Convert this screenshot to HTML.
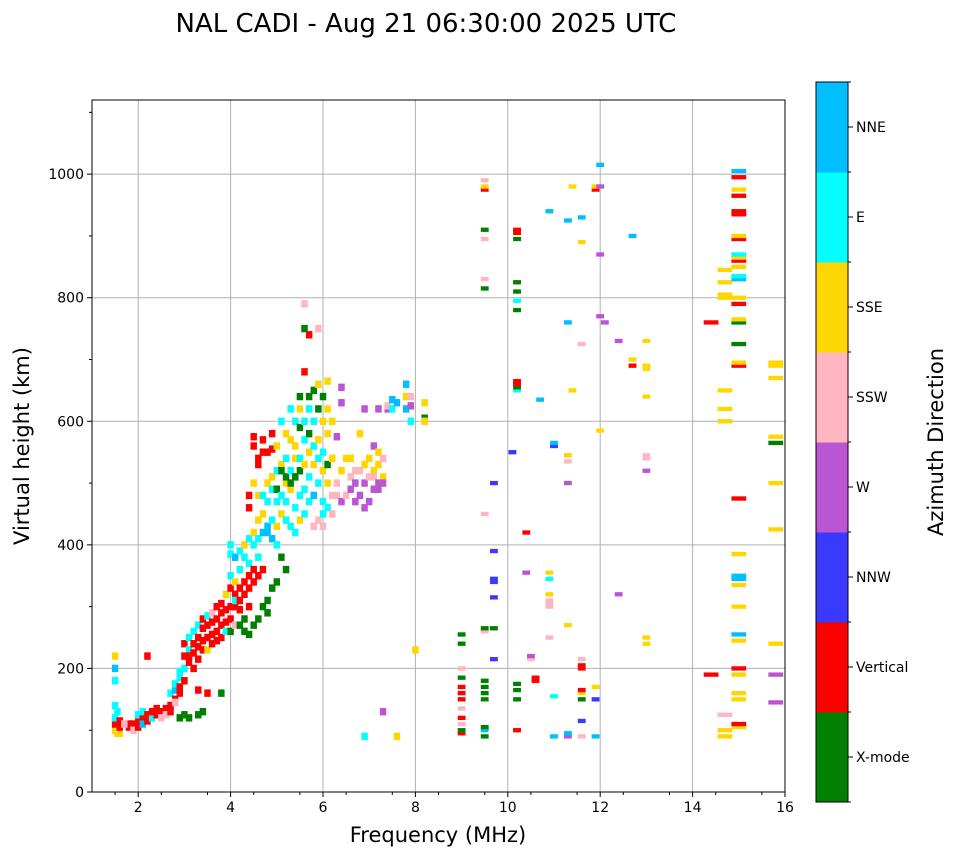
<!DOCTYPE html>
<html><head><meta charset="utf-8">
<style>
body{margin:0;background:#fff;font-family:"DejaVu Sans","Liberation Sans",sans-serif;}
svg text{font-family:"DejaVu Sans","Liberation Sans",sans-serif;}
</style></head>
<body>
<svg id="chart" width="958" height="857" xmlns="http://www.w3.org/2000/svg">
<text x="426" y="32" font-size="26" text-anchor="middle">NAL CADI - Aug 21 06:30:00 2025 UTC</text>
<g id="grid"></g>
<g id="cells"></g>
<rect x="92" y="100" width="693" height="692" fill="none" stroke="#000" stroke-width="1"/>
<g id="axes"></g>
<text x="438" y="842" font-size="21" text-anchor="middle">Frequency (MHz)</text>
<text transform="translate(29,446) rotate(-90)" font-size="21" text-anchor="middle">Virtual height (km)</text>
<g id="cbar"></g>
<text transform="translate(943,442) rotate(-90)" font-size="21" text-anchor="middle">Azimuth Direction</text>
</svg>
<script>
const xTicks=[2,4,6,8,10,12,14,16];
const yTicks=[0,200,400,600,800,1000];
const dirLabels=["X-mode","Vertical","NNW","W","SSW","SSE","E","NNE"];
const dirColors=["#008000","#ff0000","#3a3aff","#ba55d3","#ffb6c1","#ffd700","#00ffff","#00bfff"];
// [frequency MHz, height km, direction index]
const cells=[
[1.5,100,5],[1.5,110,1],[1.5,120,6],[1.5,140,6],[1.5,180,6],[1.5,200,7],[1.5,220,5],[1.55,95,5],[1.55,130,6],
[1.6,95,5],[1.6,105,1],[1.6,115,1],[1.8,105,1],[1.8,110,1],[1.9,110,1],[1.9,100,4],[1.7,110,4],
[2.0,115,1],[2.0,105,1],[2.0,125,6],[2.1,120,1],[2.1,110,7],[2.1,130,6],[2.2,115,1],[2.2,125,1],[2.2,220,1],
[2.3,120,6],[2.3,130,1],[2.4,125,1],[2.4,135,1],[2.5,130,1],[2.5,120,4],[2.6,135,1],[2.6,125,4],
[2.7,140,1],[2.7,130,1],[2.7,160,6],[2.8,150,1],[2.8,165,7],[2.8,175,6],[2.8,145,4],
[2.9,160,1],[2.9,170,1],[2.9,185,6],[2.9,195,6],[2.9,120,0],[3.0,180,1],[3.0,200,6],[3.0,220,1],[3.0,240,1],[3.0,125,0],
[3.1,210,1],[3.1,230,6],[3.1,250,6],[3.1,220,1],[3.1,120,0],[3.2,225,1],[3.2,240,1],[3.2,260,6],[3.2,200,1],
[3.3,235,1],[3.3,250,1],[3.3,270,6],[3.3,215,1],[3.3,125,0],[3.3,165,1],[3.4,245,1],[3.4,265,1],[3.4,280,1],[3.4,230,1],[3.4,130,0],
[3.5,250,1],[3.5,270,1],[3.5,285,6],[3.5,230,5],[3.5,160,1],[3.6,255,1],[3.6,275,1],[3.6,290,4],[3.6,240,1],
[3.7,260,1],[3.7,280,1],[3.7,300,1],[3.7,245,1],[3.8,270,1],[3.8,290,1],[3.8,305,1],[3.8,250,1],[3.8,160,0],
[3.9,275,1],[3.9,295,1],[3.9,320,5],[3.9,260,6],[4.0,280,1],[4.0,300,1],[4.0,330,1],[4.0,350,6],[4.0,385,6],[4.0,400,6],[4.0,260,0],
[4.1,300,1],[4.1,320,1],[4.1,310,6],[4.1,340,5],[4.1,380,7],[4.1,270,4],[4.2,310,1],[4.2,330,1],[4.2,295,1],[4.2,360,6],[4.2,390,6],[4.2,270,0],
[4.3,320,1],[4.3,340,1],[4.3,380,6],[4.3,400,5],[4.3,260,0],[4.3,280,0],[4.4,330,1],[4.4,350,1],[4.4,300,1],[4.4,370,6],[4.4,410,6],[4.4,255,0],[4.4,480,1],[4.4,460,1],
[4.5,340,1],[4.5,360,1],[4.5,400,6],[4.5,420,5],[4.5,270,0],[4.5,500,5],[4.5,560,1],[4.5,575,1],
[4.6,350,1],[4.6,380,6],[4.6,410,6],[4.6,440,5],[4.6,280,0],[4.6,480,5],[4.6,540,1],[4.6,530,1],
[4.7,360,1],[4.7,300,0],[4.7,420,7],[4.7,450,5],[4.7,480,6],[4.7,550,1],[4.7,570,1],
[4.8,420,7],[4.8,430,7],[4.8,470,6],[4.8,500,5],[4.8,310,0],[4.8,550,1],[4.8,290,0],
[4.9,410,7],[4.9,440,6],[4.9,490,6],[4.9,510,5],[4.9,330,0],[4.9,555,1],[4.9,580,1],
[5.0,400,6],[5.0,430,5],[5.0,470,6],[5.0,520,6],[5.0,340,0],[5.0,490,0],[5.0,560,5],
[5.1,380,0],[5.1,450,5],[5.1,480,6],[5.1,530,5],[5.1,600,6],[5.1,520,0],
[5.2,360,0],[5.2,440,6],[5.2,470,6],[5.2,500,5],[5.2,540,6],[5.2,580,5],[5.2,510,0],
[5.3,430,6],[5.3,490,5],[5.3,520,6],[5.3,570,5],[5.3,620,6],[5.3,500,0],
[5.4,420,6],[5.4,460,6],[5.4,510,6],[5.4,540,5],[5.4,600,6],[5.4,560,5],[5.4,510,0],
[5.5,440,5],[5.5,480,6],[5.5,520,0],[5.5,540,6],[5.5,590,0],[5.5,620,5],[5.5,640,0],
[5.6,450,6],[5.6,490,6],[5.6,530,5],[5.6,570,6],[5.6,600,6],[5.6,680,1],[5.6,750,0],[5.6,790,4],
[5.7,470,6],[5.7,510,6],[5.7,550,5],[5.7,580,0],[5.7,620,6],[5.7,640,0],[5.7,740,1],
[5.8,480,7],[5.8,530,5],[5.8,560,6],[5.8,600,6],[5.8,650,0],[5.8,430,4],
[5.9,500,6],[5.9,540,6],[5.9,570,5],[5.9,620,0],[5.9,660,5],[5.9,440,4],[5.9,750,4],
[6.0,450,6],[6.0,520,5],[6.0,550,6],[6.0,600,5],[6.0,640,0],[6.0,430,4],[6.0,470,6],
[6.1,460,6],[6.1,500,5],[6.1,530,0],[6.1,580,5],[6.1,620,5],[6.1,665,5],
[6.2,450,4],[6.2,480,4],[6.2,540,5],[6.2,600,5],[6.3,480,4],[6.3,500,4],[6.3,575,3],
[6.4,470,3],[6.4,520,5],[6.4,630,3],[6.4,655,3],[6.5,480,4],[6.5,540,5],
[6.6,490,3],[6.6,510,4],[6.6,540,5],[6.7,500,3],[6.7,520,4],[6.7,470,3],
[6.8,480,3],[6.8,520,4],[6.8,580,5],[6.9,460,3],[6.9,500,3],[6.9,530,5],[6.9,620,3],[6.9,90,6],
[7.0,470,3],[7.0,510,4],[7.0,540,5],[7.1,490,3],[7.1,520,5],[7.1,560,3],[7.1,510,4],
[7.2,500,3],[7.2,530,5],[7.2,550,5],[7.2,490,3],[7.2,620,3],[7.3,510,5],[7.3,540,4],[7.3,500,3],[7.3,130,3],
[7.4,620,3],[7.4,625,4],[7.5,635,7],[7.5,620,6],[7.6,90,5],[7.6,630,7],
[7.8,620,7],[7.8,640,5],[7.8,660,7],[7.9,600,6],[7.9,625,3],[7.9,640,4],[8.0,230,5],[8.2,605,0],[8.2,600,5],[8.2,630,5],
[9.0,95,1],[9.0,100,0],[9.0,110,4],[9.0,120,1],[9.0,135,4],[9.0,150,1],[9.0,160,1],[9.0,170,1],[9.0,185,0],[9.0,200,4],[9.0,240,0],[9.0,255,0],
[9.5,90,0],[9.5,100,7],[9.5,105,0],[9.5,150,0],[9.5,160,0],[9.5,170,0],[9.5,180,0],[9.5,260,4],[9.5,265,0],[9.5,450,4],[9.5,815,0],[9.5,830,4],[9.5,895,4],[9.5,910,0],[9.5,975,1],[9.5,980,5],[9.5,990,4],
[9.7,215,2],[9.7,265,0],[9.7,315,2],[9.7,340,2],[9.7,345,2],[9.7,390,2],[9.7,500,2],
[10.2,100,1],[10.2,150,0],[10.2,165,0],[10.2,175,0],[10.2,650,6],[10.2,655,0],[10.2,660,1],[10.2,665,1],[10.2,780,0],[10.2,795,6],[10.2,810,0],[10.2,825,0],[10.2,895,0],[10.2,905,1],[10.2,910,1],
[10.4,420,1],[10.1,550,2],[10.5,215,4],[10.5,220,3],[10.6,180,1],[10.6,185,1],[10.4,355,3],[10.7,635,7],
[10.9,250,4],[10.9,300,4],[10.9,305,4],[10.9,310,4],[10.9,320,5],[10.9,345,6],[10.9,355,5],[10.9,940,7],
[11.0,90,7],[11.0,155,6],[11.0,560,2],[11.0,565,7],
[11.3,90,3],[11.3,95,7],[11.3,270,5],[11.3,500,3],[11.3,535,4],[11.3,545,5],[11.3,760,7],[11.3,925,7],[11.4,650,5],[11.4,980,5],
[11.6,90,4],[11.6,115,2],[11.6,150,0],[11.6,160,5],[11.6,165,1],[11.6,200,1],[11.6,205,1],[11.6,215,4],[11.6,725,4],[11.6,890,5],[11.6,930,7],
[11.9,90,7],[11.9,150,2],[11.9,170,5],[11.9,975,1],[11.9,980,5],[12.0,585,5],[12.0,770,3],[12.0,870,3],[12.0,1015,7],[12.0,980,3],[12.1,760,3],
[12.4,320,3],[12.4,730,3],[12.7,690,1],[12.7,700,5],[12.7,900,7],
[13.0,240,5],[13.0,250,5],[13.0,520,3],[13.0,540,4],[13.0,545,4],[13.0,640,5],[13.0,685,5],[13.0,690,5],[13.0,730,5],
[14.4,190,1],[14.4,760,1],[14.7,90,5],[14.7,100,5],[14.7,125,4],[14.7,600,5],[14.7,620,5],[14.7,650,5],[14.7,800,5],[14.7,805,5],[14.7,825,5],[14.7,845,5],
[15.0,105,5],[15.0,110,1],[15.0,150,5],[15.0,160,5],[15.0,190,5],[15.0,200,1],[15.0,245,5],[15.0,255,7],[15.0,300,5],[15.0,335,5],[15.0,345,7],[15.0,350,7],[15.0,385,5],[15.0,475,1],
[15.0,690,1],[15.0,695,5],[15.0,725,0],[15.0,760,0],[15.0,765,5],[15.0,790,1],[15.0,800,5],[15.0,830,7],[15.0,835,6],[15.0,850,5],[15.0,860,1],[15.0,865,5],[15.0,870,6],[15.0,895,1],[15.0,900,5],[15.0,935,1],[15.0,940,1],[15.0,965,1],[15.0,975,5],[15.0,995,1],[15.0,1005,7],
[15.8,145,3],[15.8,190,3],[15.8,240,5],[15.8,425,5],[15.8,500,5],[15.8,565,0],[15.8,575,5],[15.8,670,5],[15.8,690,5],[15.8,695,5]
];
const X0=92,X1=785,Y0=792,Y1=100,FMIN=1,FMAX=16,HMIN=0,HMAX=1120;
function xs(f){return X0+(f-FMIN)/(FMAX-FMIN)*(X1-X0);}
function ys(h){return Y0-(h-HMIN)/(HMAX-HMIN)*(Y0-Y1);}
const NS="http://www.w3.org/2000/svg";
function mk(tag,attrs,parent){const e=document.createElementNS(NS,tag);for(const k in attrs)e.setAttribute(k,attrs[k]);parent.appendChild(e);return e;}
const grid=document.getElementById('grid'),axes=document.getElementById('axes'),cg=document.getElementById('cells'),cb=document.getElementById('cbar');
xTicks.forEach(t=>{
  const l=mk('line',{x1:xs(t),x2:xs(t),y1:Y1,y2:Y0,stroke:'#b0b0b0','stroke-width':1},grid);
  
  
  const tk=mk('line',{x1:xs(t),x2:xs(t),y1:Y0,y2:Y0+5,stroke:'#000'},axes);
  
  
  const tx=mk('text',{x:xs(t),y:Y0+20,'font-size':14,'text-anchor':'middle'},axes);
  tx.textContent=t;
  
  
});
for(let f=1.5;f<16;f+=1){
  const m=mk('line',{x1:xs(f),x2:xs(f),y1:Y0,y2:Y0+3,stroke:'#000'},axes);
  
  
}
yTicks.forEach(t=>{
  if(t>0){const l=mk('line',{x1:X0,x2:X1,y1:ys(t),y2:ys(t),stroke:'#b0b0b0','stroke-width':1},grid);
  
  }
  const tk=mk('line',{x1:X0-5,x2:X0,y1:ys(t),y2:ys(t),stroke:'#000'},axes);
  
  
  const tx=mk('text',{x:X0-8,y:ys(t)+5,'font-size':14,'text-anchor':'end'},axes);
  tx.textContent=t;
  
  
});
for(let h=100;h<1120;h+=200){
  const m=mk('line',{x1:X0-3,x2:X0,y1:ys(h),y2:ys(h),stroke:'#000'},axes);
  
  
}
cells.forEach(c=>{
  const f=c[0],h=c[1];
  const w=f<8.5?0.14:(f<14?0.17:0.32);
  const hh=f<8.5?6:3.5;
  const r=mk('rect',{x:xs(f-w/2),y:ys(h+hh),width:xs(f+w/2)-xs(f-w/2),height:ys(h-hh)-ys(h+hh),fill:dirColors[c[2]]},cg);
  
  
});
const CBX=816,CBW=32,CBT=82,CBB=802,bh=(CBB-CBT)/dirLabels.length;
dirLabels.forEach((lab,i)=>{
  const y=CBB-(i+1)*bh;
  const r=mk('rect',{x:CBX,y:y,width:CBW,height:bh+0.5,fill:dirColors[i]},cb);
  
  
  const t=mk('line',{x1:CBX+CBW,x2:CBX+CBW+5,y1:y+bh/2,y2:y+bh/2,stroke:'#000'},cb);
  
  
  const tx=mk('text',{x:CBX+CBW+8,y:y+bh/2+5,'font-size':14},cb);
  tx.textContent=lab;
  
  
});
for(let i=0;i<=dirLabels.length;i++){
  const t=mk('line',{x1:CBX+CBW,x2:CBX+CBW+3,y1:CBB-i*bh,y2:CBB-i*bh,stroke:'#000'},cb);
  
  
}
const fr=mk('rect',{x:CBX,y:CBT,width:CBW,height:CBB-CBT,fill:'none',stroke:'#000'},cb);


</script>
</body></html>
